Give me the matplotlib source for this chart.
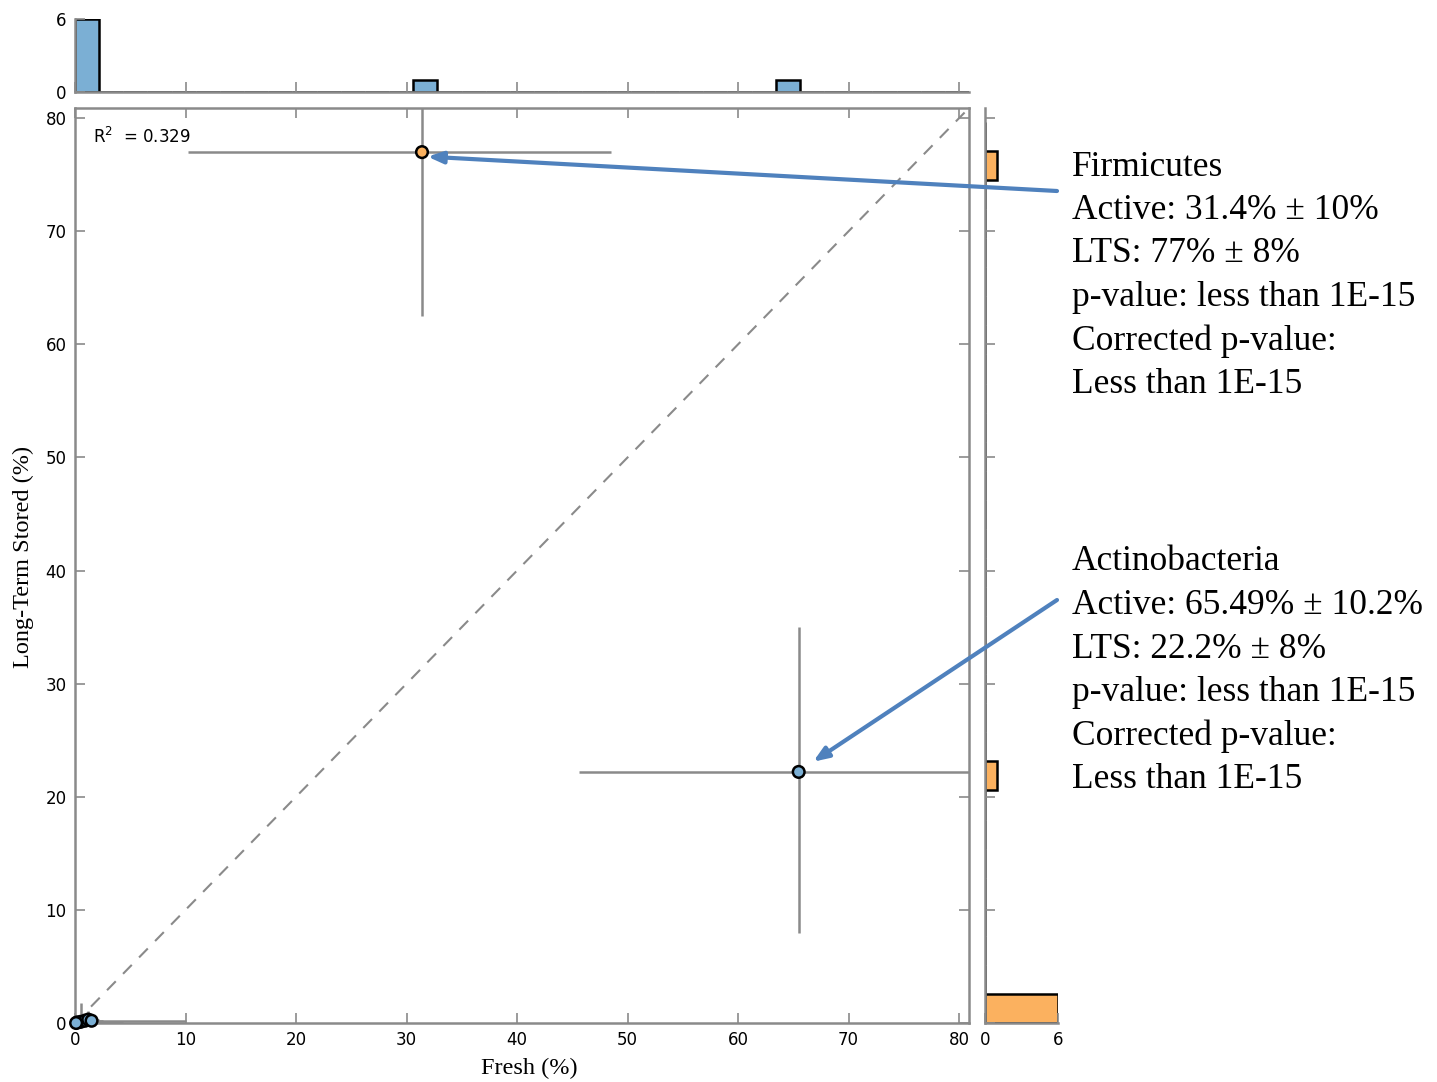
import numpy as np
import matplotlib
matplotlib.use("Agg")
import matplotlib.pyplot as plt
from matplotlib.patches import ConnectionPatch

# ---- data ----
fresh = [31.4, 65.49, 0.2, 0.5, 0.9, 1.2, 1.5, 0.1]
stored = [77.0, 22.2, 0.05, 0.1, 0.2, 0.3, 0.2, 0.0]
fresh_err_lo = [21.2, 19.9, 0.2, 0.3, 0.5, 0.6, 0.8, 0.1]
fresh_err_hi = [17.1, 20.0, 0.5, 3.8, 9.1, 1.0, 1.0, 0.2]
stored_err_lo = [14.5, 14.2, 0.05, 0.1, 0.2, 0.3, 0.2, 0.0]
stored_err_hi = [14.5, 12.8, 0.3, 1.7, 0.5, 0.8, 0.4, 0.1]
colors = ['#FBB15F', '#7BAFD4', '#7BAFD4', '#7BAFD4', '#7BAFD4', '#7BAFD4', '#7BAFD4', '#7BAFD4']
r2_text = "R$^2$  = 0.329"
xticks = [0, 10, 20, 30, 40, 50, 60, 70, 80]
yticks = [0, 10, 20, 30, 40, 50, 60, 70, 80]
firm_text = ["Firmicutes", "Active: 31.4% \u00b1 10%", "LTS: 77% \u00b1 8%",
             "p-value: less than 1E-15", "Corrected p-value:", "Less than 1E-15"]
actino_text = ["Actinobacteria", "Active: 65.49% \u00b1 10.2%", "LTS: 22.2% \u00b1 8%",
               "p-value: less than 1E-15", "Corrected p-value:", "Less than 1E-15"]

XMAX, YMAX = 80.9, 80.9
GRAY = '#8a8a8a'
BLUE = '#7BAFD4'
ORANGE = '#FBB15F'
ARROW = '#4F81BD'

fig = plt.figure(figsize=(14.37, 10.82), dpi=100)
W, H = 1437, 1082
def fr(x0, y0, x1, y1):
    return [x0 / W, 1 - y1 / H, (x1 - x0) / W, (y1 - y0) / H]

ax = fig.add_axes(fr(75, 108, 969, 1023))
axt = fig.add_axes(fr(75, 19, 969, 92))
axr = fig.add_axes(fr(985, 108, 1058, 1023))

# main scatter
ax.plot([0, XMAX], [0, XMAX], ls=(0, (6, 5)), color=GRAY, lw=1.5, zorder=1)
for i in range(len(fresh)):
    ax.errorbar(fresh[i], stored[i],
                xerr=[[fresh_err_lo[i]], [fresh_err_hi[i]]],
                yerr=[[stored_err_lo[i]], [stored_err_hi[i]]],
                fmt='none', ecolor=GRAY, elinewidth=1.8, capsize=0, zorder=2)
ax.scatter(fresh, stored, s=70, c=colors, edgecolors='black', linewidths=1.8, zorder=3, clip_on=False)
ax.set_xlim(0, XMAX)
ax.set_ylim(0, YMAX)
ax.set_xticks(xticks)
ax.set_yticks(yticks)
ax.tick_params(direction='in', top=True, right=True, length=7, width=1.2, color=GRAY,
               labelsize=12, pad=6)
for s in ax.spines.values():
    s.set_color(GRAY)
    s.set_linewidth(1.8)
ax.text(1.6, 78.3, r2_text, fontsize=12, va='center', ha='left')
ax.set_xlabel("Fresh (%)", family='Liberation Serif', fontsize=17.5, labelpad=6, x=0.508)
ax.set_ylabel("Long-Term Stored (%)", family='Liberation Serif', fontsize=17.5, labelpad=8, y=0.509)

# top histogram
xbins = np.linspace(0, XMAX, 38)
axt.hist(fresh, bins=xbins, color=BLUE, edgecolor='black', linewidth=1.8)
axt.set_xlim(0, XMAX)
axt.set_ylim(0, 6)
axt.set_yticks([0, 6])
axt.set_xticks(xticks)
axt.set_xticklabels([])
axt.tick_params(axis='x', direction='in', length=7, width=1.2, color=GRAY)
axt.tick_params(axis='y', direction='in', length=7, width=1.2, color=GRAY, labelsize=12, pad=6)
for k in ['top', 'right']:
    axt.spines[k].set_visible(False)
for k in ['left', 'bottom']:
    axt.spines[k].set_color(GRAY)
    axt.spines[k].set_linewidth(1.8)

# right histogram
ybins = np.arange(0, 81, 2.57)
axr.hist(stored, bins=ybins, orientation='horizontal', color=ORANGE, edgecolor='black', linewidth=1.8)
axr.set_ylim(0, YMAX)
axr.set_xlim(0, 6)
axr.set_xticks([0, 6])
axr.set_yticks(yticks)
axr.set_yticklabels([])
axr.tick_params(axis='y', direction='in', length=7, width=1.2, color=GRAY)
axr.tick_params(axis='x', direction='in', length=7, width=1.2, color=GRAY, labelsize=12, pad=6)
for k in ['top', 'right']:
    axr.spines[k].set_visible(False)
for k in ['left', 'bottom']:
    axr.spines[k].set_color(GRAY)
    axr.spines[k].set_linewidth(1.8)

# annotation texts
def put_block(lines, ytop_px):
    for j, t in enumerate(lines):
        fig.text(1072 / W, 1 - (ytop_px + j * 43.5) / H, t, family='Liberation Serif',
                 fontsize=25.5, ha='left', va='center')

put_block(firm_text, 167)
put_block(actino_text, 562)

def arrow(start_px, target):
    cp = ConnectionPatch(xyA=(start_px[0] / W, 1 - start_px[1] / H), coordsA=fig.transFigure,
                         xyB=target, coordsB=ax.transData,
                         arrowstyle='-|>,head_length=0.9,head_width=0.35', color=ARROW, lw=3,
                         shrinkA=0, shrinkB=0, zorder=10)
    fig.add_artist(cp)

arrow((1057, 191), (31.9, 76.6))
arrow((1057, 600), (66.8, 23.1))

fig.savefig("out.png", dpi=100)
